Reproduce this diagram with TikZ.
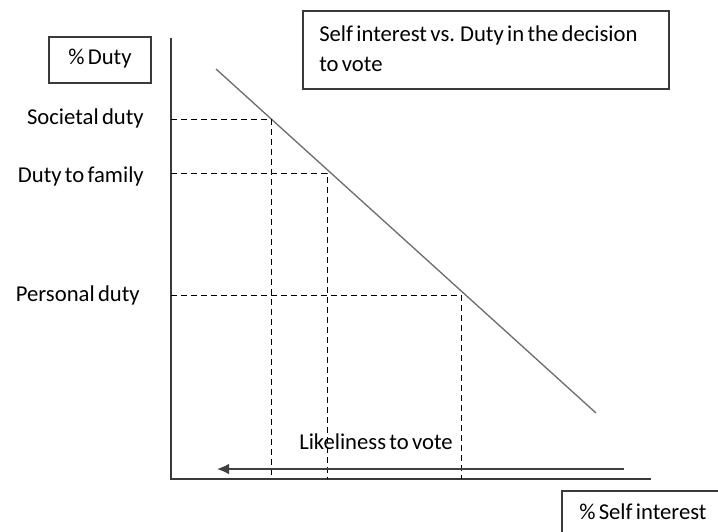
\documentclass[tikz,border=0pt]{standalone}
\usepackage{fontspec}
\setmainfont[WordSpace=0.65]{Carlito}
\usetikzlibrary{arrows.meta}
\definecolor{axisc}{HTML}{3A3A3A}
\definecolor{linec}{HTML}{6E6E6E}
\begin{document}
\begin{tikzpicture}[x=0.75pt,y=-0.75pt,
  lbl/.style={font=\fontsize{17}{20}\selectfont, inner sep=0pt, text=black},
  boxc/.style={draw=axisc, line width=0.9pt},
  axisl/.style={draw=axisc, line width=1pt},
  guide/.style={draw=black, line width=0.7pt, dash pattern=on 4.5pt off 3pt},
  diag/.style={draw=linec, line width=1pt}]
\clip (0,0) rectangle (718,532);
\fill[white] (0,0) rectangle (718,532);
% axes
\coordinate (O) at (171,479);
\coordinate (ytop) at (171,38);
\coordinate (xend) at (651,479);
\draw[axisl] (ytop) -- (O) -- (xend);
% diagonal
\coordinate (d1) at (216,69);
\coordinate (d2) at (596,413);
\draw[diag] (d1) -- (d2);
% dashed guides
\coordinate (p1) at (271,119);
\coordinate (p2) at (327,173);
\coordinate (p3) at (461,295);
\coordinate (y1) at (171,119);
\coordinate (y2) at (171,173);
\coordinate (y3) at (171,295);
\coordinate (x1) at (271,479);
\coordinate (x2) at (327,479);
\coordinate (x3) at (461,479);
\draw[guide] (y1) -- (p1) -- (x1);
\draw[guide] (y2) -- (p2) -- (x2);
\draw[guide] (y3) -- (p3) -- (x3);
% arrow
\coordinate (a1) at (624,469);
\coordinate (a2) at (217,469);
\draw[draw=black!75, line width=1.2pt, -{Latex[length=9pt,width=8pt]}] (a1) -- (a2);
% boxes
\draw[boxc] (49,37) rectangle (151,83);
\node[lbl] (duty) at (100,59) {\% Duty};
\draw[boxc] (303,11) rectangle (669,89);
\node[lbl, anchor=west] (t1) at (319,35) {Self interest vs. Duty in the decision};
\node[lbl, anchor=west] (t2) at (319,64) {to vote};
\draw[boxc] (562,491) rectangle (730,545);
\node[lbl, anchor=west] (self) at (579,512) {\% Self interest};
% labels
\node[lbl, anchor=east] (soc) at (144,118) {Societal duty};
\node[lbl, anchor=east] (fam) at (144,176) {Duty to family};
\node[lbl, anchor=east] (per) at (140,295) {Personal duty};
\node[lbl, anchor=west] (like) at (299,442) {Likeliness to vote};
\end{tikzpicture}
\end{document}
